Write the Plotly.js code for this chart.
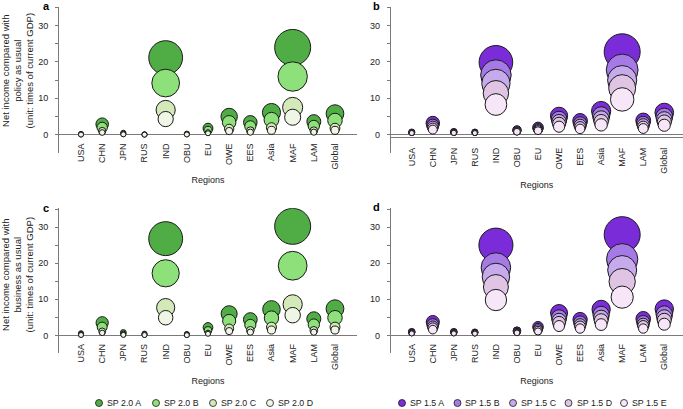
<!DOCTYPE html>
<html>
<head>
<meta charset="utf-8">
<script src="https://cdn.plot.ly/plotly-3.0.1.min.js"></script>
<style>html,body{margin:0;padding:0;background:#fff;}#chart{width:683px;height:409px;}</style>
</head>
<body>
<div id="chart"></div>
<script>
// ---- DATA ----
const regions = ['USA','CHN','JPN','RUS','IND','OBU','EU','OWE','EES','Asia','MAF','LAM','Global'];

const names20 = ['SP 2.0 A','SP 2.0 B','SP 2.0 C','SP 2.0 D'];
const names15 = ['SP 1.5 A','SP 1.5 B','SP 1.5 C','SP 1.5 D','SP 1.5 E'];

// (a) compared with policy as usual, 2.0 °C pathways
const a_SP20A = [0.2, 2.9, 0.5, 0.1, 21.2, 0.3, 1.8, 5.0, 3.4, 6.1, 24.0, 3.6, 5.8];
const a_SP20B = [0.15, 2.0, 0.35, 0.07, 14.2, 0.2, 1.2, 3.4, 2.3, 4.1, 16.0, 2.4, 3.9];
const a_SP20C = [0.05, 1.0, 0.15, 0.03, 6.8, 0.1, 0.6, 1.6, 1.1, 1.9, 7.5, 1.1, 1.8];
const a_SP20D = [0.03, 0.6, 0.1, 0.02, 4.3, 0.06, 0.4, 1.0, 0.7, 1.2, 4.8, 0.7, 1.2];

// (b) compared with policy as usual, 1.5 °C pathways
const b_SP15A = [0.7, 3.2, 0.8, 0.7, 19.9, 1.3, 2.0, 5.2, 3.8, 6.5, 22.8, 3.9, 6.1];
const b_SP15B = [0.6, 2.6, 0.7, 0.6, 16.4, 1.1, 1.7, 4.3, 3.1, 5.3, 17.8, 3.2, 5.0];
const b_SP15C = [0.55, 2.2, 0.6, 0.55, 14.1, 1.0, 1.5, 3.6, 2.6, 4.4, 15.0, 2.7, 4.2];
const b_SP15D = [0.5, 1.8, 0.55, 0.5, 11.4, 0.9, 1.3, 3.0, 2.1, 3.6, 12.8, 2.2, 3.5];
const b_SP15E = [0.45, 1.4, 0.5, 0.45, 8.3, 0.8, 1.1, 2.2, 1.6, 2.7, 9.7, 1.7, 2.6];

// (c) compared with business as usual, 2.0 °C pathways
const c_SP20A = [0.6, 3.5, 0.8, 0.5, 26.8, 0.4, 2.2, 6.0, 4.4, 7.2, 30.2, 4.6, 7.4];
const c_SP20B = [0.4, 2.3, 0.5, 0.35, 17.2, 0.27, 1.4, 4.0, 2.9, 4.8, 19.3, 3.0, 4.9];
const c_SP20C = [0.2, 1.1, 0.25, 0.15, 7.7, 0.13, 0.7, 1.9, 1.4, 2.3, 8.6, 1.4, 2.3];
const c_SP20D = [0.12, 0.7, 0.15, 0.1, 4.9, 0.08, 0.45, 1.2, 0.9, 1.5, 5.6, 0.9, 1.5];

// (d) compared with business as usual, 1.5 °C pathways
const d_SP15A = [1.0, 3.7, 1.0, 0.9, 25.0, 1.3, 2.4, 6.2, 4.4, 7.2, 27.9, 4.6, 7.3];
const d_SP15B = [0.85, 3.0, 0.85, 0.8, 18.8, 1.1, 2.0, 5.0, 3.6, 5.8, 21.1, 3.7, 5.9];
const d_SP15C = [0.75, 2.5, 0.75, 0.7, 16.2, 1.0, 1.7, 4.2, 3.0, 4.9, 18.1, 3.1, 5.0];
const d_SP15D = [0.65, 2.1, 0.65, 0.6, 13.4, 0.85, 1.4, 3.5, 2.5, 4.1, 14.9, 2.6, 4.2];
const d_SP15E = [0.55, 1.6, 0.55, 0.5, 9.8, 0.7, 1.1, 2.6, 1.9, 3.0, 10.6, 1.9, 3.1];

const yTickVals = [0, 10, 20, 30];

// ---- STYLE ----
const greens = ['#50ac44', '#8ee07b', '#d4e9b9', '#eff6e5'];
const purples = ['#7b2cd9', '#a57ae6', '#c7aaec', '#dfc4e3', '#f6e6f8'];
const FONT = 'Liberation Sans, Arial, Helvetica, sans-serif';
const MAXD = 36; // px diameter of the largest bubble in each panel
const W = 683, H = 409;
const px = v => v / W;
const py = v => 1 - v / H;

function panelTraces(seriesList, names, colors, xa, ya) {
  const maxV = Math.max(...seriesList.flat());
  const sizeref = 2 * maxV / (MAXD * MAXD);
  return seriesList.map((vals, i) => ({
    type: 'scatter', mode: 'markers',
    x: regions, y: vals, xaxis: xa, yaxis: ya,
    name: names[i], showlegend: false,
    marker: {
      size: vals, sizemode: 'area', sizeref: sizeref, sizemin: 2.5,
      color: colors[i], opacity: 1,
      line: {color: '#1a1a1a', width: 1}
    },
    hoverinfo: 'x+y+name'
  }));
}

const traces = [].concat(
  panelTraces([a_SP20A, a_SP20B, a_SP20C, a_SP20D], names20, greens, 'x', 'y'),
  panelTraces([b_SP15A, b_SP15B, b_SP15C, b_SP15D, b_SP15E], names15, purples, 'x2', 'y2'),
  panelTraces([c_SP20A, c_SP20B, c_SP20C, c_SP20D], names20, greens, 'x3', 'y3'),
  panelTraces([d_SP15A, d_SP15B, d_SP15C, d_SP15D, d_SP15E], names15, purples, 'x4', 'y4')
);

const AXC = '#7a7a7a';
function xAxis(domPx, rangeV, posPx, showLine) {
  return {
    type: 'category', categoryarray: regions, categoryorder: 'array',
    domain: [px(domPx[0]), px(domPx[1])], range: rangeV,
    anchor: 'free', position: py(posPx),
    showline: showLine, linecolor: AXC, linewidth: 1,
    ticks: '', tickangle: -90, ticklabelstandoff: 6,
    tickfont: {family: FONT, size: 9, color: '#222'},
    showgrid: false, zeroline: false, fixedrange: true,
    title: {text: 'Regions', font: {family: FONT, size: 9, color: '#222'}, standoff: 8}
  };
}
function yAxis(anchor, domPx) {
  return {
    anchor: anchor, domain: [py(domPx[1]), py(domPx[0])], range: [-4.95, 35.2],
    tickmode: 'array', tickvals: yTickVals, ticktext: yTickVals.map(String),
    ticks: 'outside', ticklen: 3, tickcolor: AXC, ticklabelstandoff: 5,
    minor: {dtick: 5, tick0: 0, ticks: 'outside', ticklen: 3, tickcolor: AXC, showgrid: false},
    tickfont: {family: FONT, size: 9, color: '#222'},
    showline: true, linecolor: AXC, linewidth: 1,
    zeroline: true, zerolinecolor: AXC, zerolinewidth: 1,
    showgrid: false, fixedrange: true
  };
}

const topDom = [6.7, 152.7], botDom = [208.3, 353.3];
const leftDom = [59, 357], rightDom = [390.7, 683];

const ann = [];
const shapes = [];
function yTitle(text, yc) {
  ann.push({xref: 'paper', yref: 'paper', x: px(17.5), y: py(yc), xanchor: 'center', yanchor: 'middle',
    text: text, textangle: -90, showarrow: false, align: 'center',
    font: {family: FONT, size: 9.5, color: '#222'}});
}
yTitle('Net income compared with<br>policy as usual<br>(unit: times of current GDP)', 71);
yTitle('Net income compared with<br>business as usual<br>(unit: times of current GDP)', 275);
[['a', 46, 6.5], ['b', 376, 6.5], ['c', 46, 208], ['d', 376, 207]].forEach(p => {
  ann.push({xref: 'paper', yref: 'paper', x: px(p[1]), y: py(p[2]), xanchor: 'center', yanchor: 'middle',
    text: '<b>' + p[0] + '</b>', showarrow: false, font: {family: FONT, size: 11, color: '#000'}});
});

// ---- legend keys (circle + label) ----
const LEG_Y = 403;
function legendRow(names, colors, startX, step) {
  names.forEach((nm, i) => {
    const cx = startX + i * step;
    shapes.push({type: 'circle', xref: 'paper', yref: 'paper',
      x0: px(cx - 3.5), x1: px(cx + 3.5), y0: py(LEG_Y + 3.5), y1: py(LEG_Y - 3.5),
      fillcolor: colors[i], line: {color: '#1a1a1a', width: 0.8}});
    ann.push({xref: 'paper', yref: 'paper', x: px(cx + 6), y: py(LEG_Y), xanchor: 'left', yanchor: 'middle',
      text: nm, showarrow: false, font: {family: FONT, size: 8.8, color: '#222'}});
  });
}
legendRow(names20, greens, 99, 57);
legendRow(names15, purples, 402, 55.5);

const layout = {
  width: W, height: H,
  margin: {l: 0, r: 0, t: 0, b: 0},
  paper_bgcolor: '#fff', plot_bgcolor: 'rgba(0,0,0,0)',
  font: {family: FONT, size: 9, color: '#222'},
  xaxis: xAxis(leftDom, [-1.04, 13.04], 134.7, false),
  xaxis2: xAxis(rightDom, [-1.0, 12.89], 137.2, true),
  xaxis3: xAxis(leftDom, [-1.04, 13.04], 335.3, false),
  xaxis4: xAxis(rightDom, [-1.0, 12.89], 335.3, false),
  yaxis: yAxis('x', topDom),
  yaxis2: yAxis('x2', topDom),
  yaxis3: yAxis('x3', botDom),
  yaxis4: yAxis('x4', botDom),
  annotations: ann,
  shapes: shapes,
  showlegend: false
};

Plotly.newPlot('chart', traces, layout, {staticPlot: true, displayModeBar: false});
</script>
</body>
</html>
